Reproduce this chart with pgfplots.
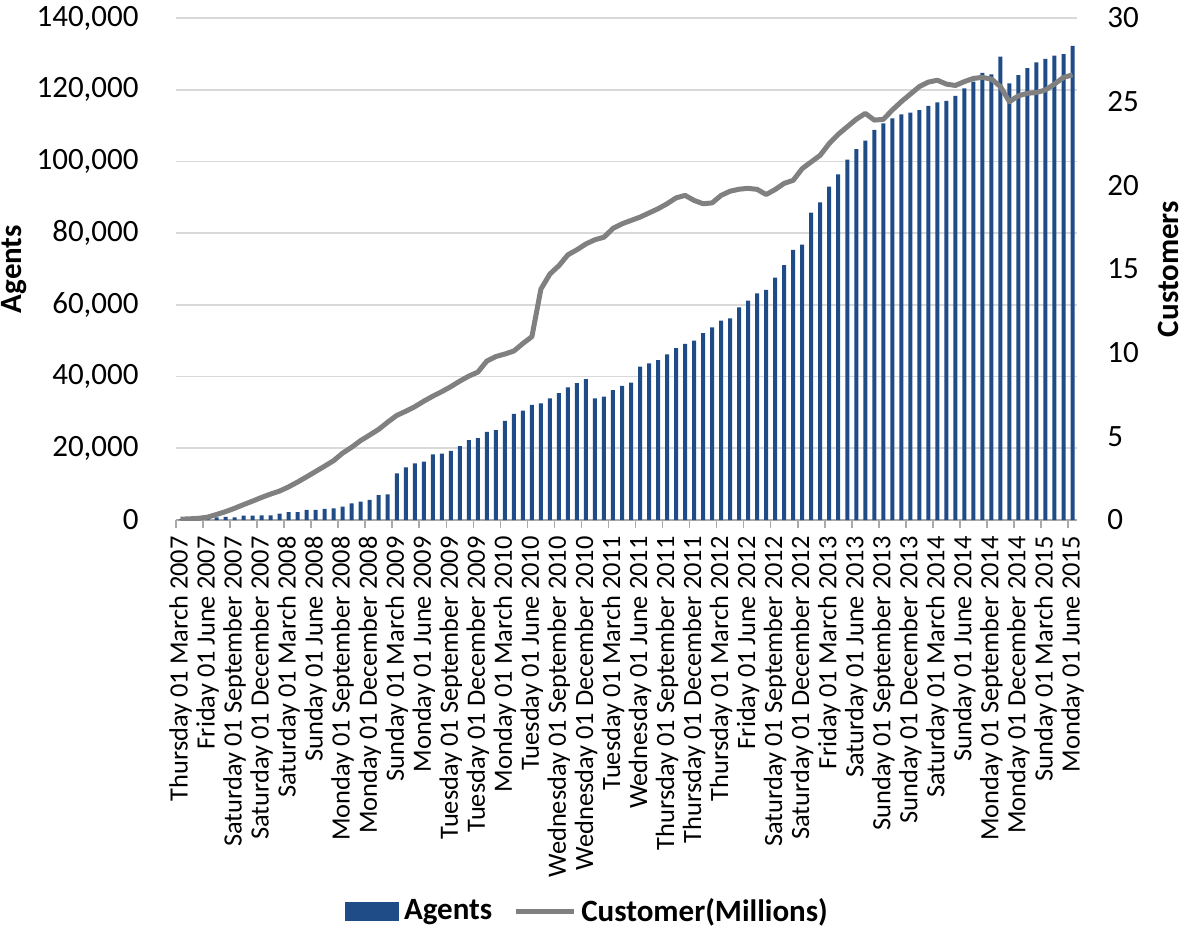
\documentclass[border=0pt]{standalone}
\usepackage{fontspec}
\setmainfont{Carlito}
\usepackage{pgfplots}
\usepackage{pgfplotstable}
\pgfplotsset{compat=1.18}

\definecolor{agentblue}{RGB}{31,75,135}
\definecolor{custgray}{RGB}{128,128,128}
\definecolor{gridgray}{RGB}{217,217,217}
\definecolor{axisgray}{RGB}{170,170,170}

% month index (0 = March 2007), agents, customers (millions)
\pgfplotstableread{
i agents cust
0 150 0.05
1 250 0.07
2 350 0.10
3 500 0.17
4 700 0.33
5 900 0.50
6 750 0.70
7 1200 0.92
8 1200 1.13
9 1300 1.35
10 1300 1.55
11 1800 1.73
12 2200 1.98
13 2200 2.27
14 2800 2.58
15 2800 2.90
16 3100 3.22
17 3250 3.55
18 3700 4.00
19 4650 4.35
20 5100 4.75
21 5600 5.08
22 6950 5.42
23 7150 5.85
24 13000 6.25
25 14700 6.50
26 15800 6.77
27 16300 7.10
28 18300 7.40
29 18500 7.67
30 19300 7.97
31 20600 8.30
32 22300 8.60
33 22800 8.84
34 24600 9.50
35 25100 9.77
36 27650 9.92
37 29600 10.10
38 30500 10.55
39 32100 10.96
40 32500 13.80
41 33900 14.70
42 35400 15.20
43 37000 15.85
44 38200 16.15
45 39300 16.50
46 33900 16.75
47 34400 16.90
48 36250 17.43
49 37400 17.70
50 38300 17.90
51 42800 18.10
52 43700 18.35
53 44600 18.60
54 46200 18.90
55 47900 19.25
56 49100 19.40
57 50000 19.10
58 52100 18.90
59 53700 18.95
60 55600 19.40
61 56250 19.65
62 59300 19.77
63 61200 19.82
64 63200 19.76
65 64150 19.45
66 67600 19.75
67 71100 20.12
68 75300 20.30
69 76800 21.00
70 85700 21.40
71 88600 21.80
72 93000 22.50
73 96400 23.05
74 100500 23.50
75 103400 23.95
76 105800 24.30
77 108800 23.90
78 110600 23.94
79 112000 24.50
80 113100 25.00
81 113600 25.45
82 114300 25.90
83 115500 26.17
84 116500 26.28
85 116900 26.05
86 118250 25.97
87 120400 26.20
88 122250 26.39
89 124700 26.45
90 124300 26.35
91 129200 25.90
92 121800 25.00
93 124100 25.35
94 126000 25.50
95 127650 25.55
96 128600 25.70
97 129500 26.05
98 129900 26.45
99 132200 26.60
}\mobiledata

\begin{document}
\begin{tikzpicture}
\path[use as bounding box] (0,0) rectangle (590.5pt,463.5pt);

% left axis: agents as bars
\begin{axis}[
    at={(88pt,203.5pt)}, anchor=south west,
    width=450.5pt, height=251pt, scale only axis,
    xmin=-0.5, xmax=99.5,
    ymin=0, ymax=140000,
    axis x line*=bottom, axis y line*=left,
    x axis line style={-, draw=axisgray, line width=0.8pt},
    y axis line style={draw=none},
    xtick={-0.5,2.5,...,98.5}, xticklabels={},
    tick align=outside,
    major tick length=4pt,
    xtick style={draw=axisgray, line width=0.8pt},
    scaled y ticks=false,
    ytick={0,20000,40000,60000,80000,100000,120000,140000},
    yticklabels={\textrm{0},\textrm{20,000},\textrm{40,000},\textrm{60,000},
        \textrm{80,000},\textrm{100,000},\textrm{120,000},\textrm{140,000}},
    ytick style={draw=none},
    ymajorgrids=true,
    grid style={draw=gridgray, line width=0.8pt},
    yticklabel style={anchor=east, inner sep=0pt, xshift=-14.5pt,
        font=\fontsize{15.5}{18}\selectfont},
    ylabel={Agents},
    ylabel style={at={(axis description cs:-0.18,0.5)}, anchor=center,
        font=\bfseries\fontsize{15.5}{18}\selectfont},
]
\addplot[ybar, bar width=2pt, fill=agentblue, draw=none]
    table[x=i, y=agents] {\mobiledata};
\end{axis}

% right axis: customers as line
\begin{axis}[
    at={(88pt,203.5pt)}, anchor=south west,
    width=450.5pt, height=251pt, scale only axis,
    xmin=-0.5, xmax=99.5,
    ymin=0, ymax=30,
    axis x line*=bottom, axis y line*=right,
    x axis line style={draw=none}, y axis line style={draw=none},
    ytick pos=right, yticklabel pos=right,
    xtick={0,3,...,99},
    xticklabels={Thursday 01 March 2007,Friday 01 June 2007,Saturday 01 September 2007,
        Saturday 01 December 2007,Saturday 01 March 2008,Sunday 01 June 2008,
        Monday 01 September 2008,Monday 01 December 2008,Sunday 01 March 2009,
        Monday 01 June 2009,Tuesday 01 September 2009,Tuesday 01 December 2009,
        Monday 01 March 2010,Tuesday 01 June 2010,Wednesday 01 September 2010,
        Wednesday 01 December 2010,Tuesday 01 March 2011,Wednesday 01 June 2011,
        Thursday 01 September 2011,Thursday 01 December 2011,Thursday 01 March 2012,
        Friday 01 June 2012,Saturday 01 September 2012,Saturday 01 December 2012,
        Friday 01 March 2013,Saturday 01 June 2013,Sunday 01 September 2013,
        Sunday 01 December 2013,Saturday 01 March 2014,Sunday 01 June 2014,
        Monday 01 September 2014,Monday 01 December 2014,Sunday 01 March 2015,
        Monday 01 June 2015},
    xtick style={draw=none}, ytick style={draw=none},
    xticklabel style={rotate=90, anchor=east, inner sep=0pt,
        font=\fontsize{13.2}{15}\selectfont},
    xticklabel shift=8pt,
    ytick={0,5,10,15,20,25,30},
    yticklabels={\textrm{0},\textrm{5},\textrm{10},\textrm{15},\textrm{20},\textrm{25},\textrm{30}},
    yticklabel style={anchor=west, inner sep=0pt, xshift=15pt,
        font=\fontsize{15.5}{18}\selectfont},
    ylabel={Customers},
    ylabel style={at={(axis description cs:1.101,0.5)}, anchor=center,
        font=\bfseries\fontsize{15.5}{18}\selectfont},
    legend columns=2,
    legend style={at={(axis description cs:0.4584,-0.779)}, anchor=center,
        draw=none, fill=none, font=\bfseries\fontsize{15.5}{18}\selectfont,
        nodes={inner sep=2.5pt},
        /tikz/every even column/.append style={column sep=8pt}},
]
\addlegendimage{legend image code/.code={\fill[agentblue] (0pt,-4.5pt) rectangle (26.5pt,4.5pt);}}
\addlegendentry{Agents}
\addplot[custgray, line width=2.5pt, line join=round,
    legend image code/.code={\draw[custgray, line width=2.5pt] (0pt,0pt) -- (29pt,0pt);}]
    table[x=i, y=cust] {\mobiledata};
\addlegendentry{Customer(Millions)}
\end{axis}
\end{tikzpicture}
\end{document}
